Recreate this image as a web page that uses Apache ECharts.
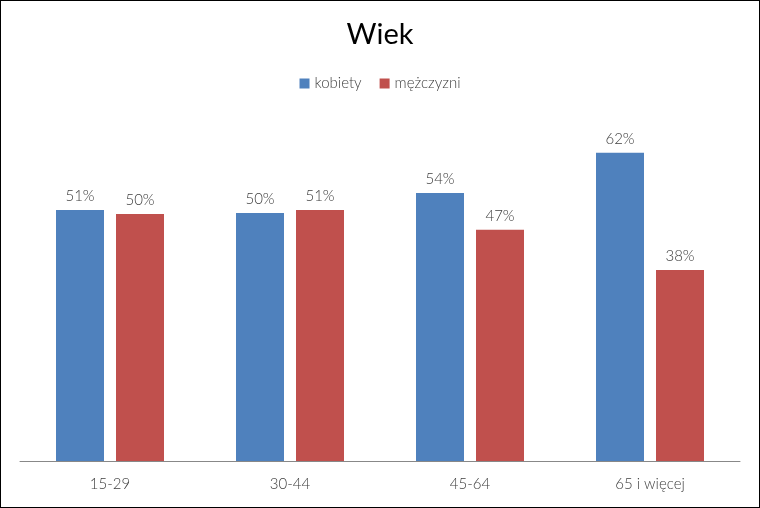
<!DOCTYPE html>
<html><head><meta charset="utf-8">
<script src="https://cdn.jsdelivr.net/npm/echarts@6/dist/echarts.min.js"></script>
<style>html,body{margin:0;padding:0;background:#fff}#c{width:758px;height:506px;border:1px solid #000}</style>
</head><body><div id="c"></div>
<script>
const categories = ['15-29','30-44','45-64','65 i więcej'];
const kobiety = [50.5, 49.9, 53.9, 62.0];
const mezczyzni = [49.7, 50.5, 46.5, 38.4];
const chart = echarts.init(document.getElementById('c'));
const lbl = {show:true, position:'top', distance:6, color:'#404040', fontFamily:'Lato', fontWeight:300, fontSize:15, formatter:p=>Math.round(p.value)+'%'};
chart.setOption({
  animation:false,
  title:{text:'Wiek', left:'center', top:14, textStyle:{fontFamily:'Lato', fontWeight:400, fontSize:29, color:'#000'}},
  legend:{top:70, left:'center', itemWidth:10, itemHeight:10, itemGap:18, icon:'rect',
    textStyle:{fontFamily:'Lato', fontWeight:300, fontSize:15, color:'#404040'}},
  grid:{left:19, right:19, top:112, bottom:46},
  xAxis:{type:'category', data:categories, axisTick:{show:false},
    axisLine:{lineStyle:{color:'#888'}},
    axisLabel:{fontFamily:'Lato', fontWeight:300, fontSize:15, color:'#404040', margin:16}},
  yAxis:{type:'value', min:0, max:70, show:false, splitLine:{show:false}},
  series:[
    {name:'kobiety', type:'bar', data:kobiety, barWidth:48, barGap:'25%', itemStyle:{color:'#4F81BD'}, label:lbl},
    {name:'mężczyzni', type:'bar', data:mezczyzni, barWidth:48, itemStyle:{color:'#C0504D'}, label:lbl}
  ]
});
</script></body></html>
